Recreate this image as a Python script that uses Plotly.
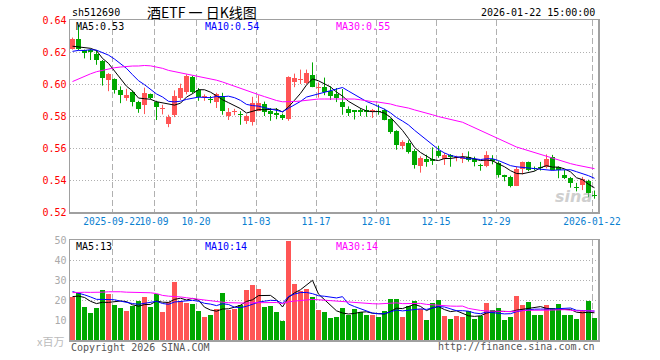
import numpy as np
import pandas as pd
import plotly.graph_objects as go

# ---------------- data ----------------
opens = [0.622, 0.628, 0.621, 0.6215, 0.619, 0.6145, 0.6023, 0.603, 0.596, 0.5915,
         0.5948, 0.5885, 0.5868, 0.5935, 0.589, 0.5843, 0.5752, 0.5808, 0.5913, 0.5947,
         0.6043, 0.5965, 0.5919, 0.5905, 0.589, 0.5925, 0.580, 0.5825, 0.5812, 0.5766,
         0.5765, 0.5834, 0.5877, 0.583, 0.582, 0.5804, 0.5781, 0.6012, 0.6025, 0.6007,
         0.6058, 0.5977, 0.598, 0.5955, 0.5935, 0.5885, 0.5844, 0.5832, 0.5833, 0.5835,
         0.5828, 0.5832, 0.5835, 0.5783, 0.5704, 0.561, 0.5631, 0.5583, 0.5486, 0.5533,
         0.5531, 0.5579, 0.5531, 0.5558, 0.5536, 0.5531, 0.5544, 0.5531, 0.5496, 0.5489,
         0.553, 0.5506, 0.5433, 0.5417, 0.5364, 0.5471, 0.551, 0.5472, 0.5478, 0.5481,
         0.5544, 0.5481, 0.5433, 0.5413, 0.5352, 0.5366, 0.5391, 0.5307]
highs = [0.629, 0.637, 0.6215, 0.622, 0.621, 0.615, 0.6068, 0.6035, 0.5985, 0.597,
         0.596, 0.5895, 0.5977, 0.594, 0.5895, 0.587, 0.5808, 0.596, 0.6002, 0.606,
         0.605, 0.5975, 0.5935, 0.5925, 0.5945, 0.5945, 0.585, 0.5845, 0.583, 0.581,
         0.592, 0.593, 0.589, 0.585, 0.585, 0.5815, 0.6048, 0.6065, 0.609, 0.609,
         0.6135, 0.601, 0.604, 0.5985, 0.5975, 0.5969, 0.586, 0.5833, 0.585, 0.5865,
         0.5844, 0.5871, 0.5845, 0.5785, 0.5711, 0.5648, 0.5648, 0.5593, 0.5548, 0.5558,
         0.5604, 0.5614, 0.5569, 0.5562, 0.5552, 0.5569, 0.5579, 0.5546, 0.5502, 0.558,
         0.5555, 0.5517, 0.5433, 0.5427, 0.5485, 0.5515, 0.5515, 0.5484, 0.5513, 0.556,
         0.5557, 0.5485, 0.5463, 0.5419, 0.5382, 0.5419, 0.5402, 0.5334]
lows = [0.6215, 0.621, 0.616, 0.615, 0.612, 0.599, 0.5955, 0.594, 0.588, 0.5895,
        0.586, 0.582, 0.5812, 0.5905, 0.5775, 0.581, 0.573, 0.5793, 0.590, 0.5935,
        0.594, 0.5895, 0.5895, 0.588, 0.585, 0.5808, 0.5775, 0.5805, 0.5745, 0.575,
        0.574, 0.583, 0.580, 0.577, 0.578, 0.5775, 0.577, 0.598, 0.600, 0.600,
        0.598, 0.5915, 0.593, 0.590, 0.5887, 0.5808, 0.580, 0.5778, 0.580, 0.5795,
        0.5788, 0.5808, 0.5773, 0.5689, 0.5589, 0.5592, 0.5565, 0.5471, 0.5446, 0.5483,
        0.5494, 0.5539, 0.5494, 0.5483, 0.5517, 0.5506, 0.5515, 0.5485, 0.5458, 0.548,
        0.5498, 0.5415, 0.5392, 0.5354, 0.5362, 0.5435, 0.5455, 0.5459, 0.5459, 0.5473,
        0.546, 0.5411, 0.5406, 0.5352, 0.5329, 0.5337, 0.5292, 0.5283]
closes = [0.628, 0.622, 0.6195, 0.620, 0.615, 0.6035, 0.6065, 0.5965, 0.5933, 0.5933,
          0.5885, 0.5845, 0.5945, 0.5915, 0.5857, 0.5847, 0.5794, 0.5927, 0.5975, 0.6048,
          0.5953, 0.5919, 0.5925, 0.590, 0.5935, 0.583, 0.5827, 0.5833, 0.5805, 0.5798,
          0.588, 0.5884, 0.5828, 0.5815, 0.5808, 0.579, 0.6044, 0.6035, 0.603, 0.607,
          0.5981, 0.5983, 0.595, 0.5925, 0.591, 0.5854, 0.5819, 0.5828, 0.5828, 0.5828,
          0.5832, 0.5826, 0.5775, 0.5698, 0.5616, 0.5635, 0.5575, 0.5496, 0.5538, 0.551,
          0.5516, 0.5548, 0.5558, 0.5541, 0.554, 0.5544, 0.5527, 0.551, 0.5485, 0.5558,
          0.5518, 0.5433, 0.5419, 0.5364, 0.5469, 0.551, 0.5464, 0.5468, 0.5474, 0.5533,
          0.5464, 0.5464, 0.5413, 0.5381, 0.5348, 0.5406, 0.5319, 0.5302]
volumes = [21.7, 23.3, 16.5, 13.5, 16, 25, 23, 17.5, 16, 14.5,
           17, 19.5, 21.5, 16.5, 23, 14, 19, 29, 19.5, 18.5,
           18, 14.5, 11.5, 12.5, 15.5, 23.5, 15, 15.5, 17.5, 25,
           27.5, 25.5, 16.5, 17, 14, 9.5, 49.5, 28, 24.7, 25.5,
           21.5, 15, 14, 11, 11.5, 16, 12.5, 15.5, 14, 12.5,
           12.5, 11.5, 14.5, 20.5, 20.5, 11.5, 17, 19.5, 15.5, 10,
           18.5, 20, 12, 10.5, 12, 11.5, 14.5, 10.5, 12, 18.5,
           15, 16, 10, 11.5, 22, 17.5, 19, 12.5, 12.5, 17.5,
           16, 18, 12.5, 12.5, 10.5, 14.5, 19.5, 11]

# sessions before the visible window (only used for the moving averages)
prior_closes = [0.572, 0.574, 0.571, 0.575, 0.577, 0.579, 0.576, 0.580, 0.582, 0.581,
                0.584, 0.585, 0.598, 0.605, 0.612, 0.618, 0.615, 0.620, 0.619, 0.619,
                0.616, 0.620, 0.615, 0.618, 0.617, 0.624, 0.621, 0.623, 0.622]
prior_volumes = [16, 19, 15, 18, 20, 17, 14, 19, 21, 18,
                 17, 20, 28, 35, 42, 30, 33, 27, 31, 29,
                 30, 26, 24, 28, 25.5, 22, 20, 23, 21.8]

date_idx = [7, 14, 21, 31, 41, 51, 61, 71, 87]
date_labels = ["2025-09-22", "10-09", "10-20", "11-03", "11-17", "12-01", "12-15", "12-29", "2026-01-22"]

price_ticks = [0.52, 0.54, 0.56, 0.58, 0.60, 0.62, 0.64]
vol_ticks = [10, 20, 30, 40, 50]

title_text = "酒ETF 一 日K线图"
code_text = "sh512690"
time_text = "2026-01-22 15:00:00"
ma_price_labels = ["MA5:0.53", "MA10:0.54", "MA30:0.55"]
ma_vol_labels = ["MA5:13", "MA10:14", "MA30:14"]

# ---------------- derived ----------------
n = len(closes)
idx = np.arange(n)
UP = "#ff5555"
DN = "#00a800"
ma_colors = ["#000000", "#0000ff", "#ff00ff"]

o = np.array(opens); c = np.array(closes)
h = np.array(highs); l = np.array(lows)
up = c >= o
colors = [UP if u else DN for u in up]

full_c = pd.Series(prior_closes + closes)
full_v = pd.Series(prior_volumes + volumes)
np_ = len(prior_closes)
ma_p = [full_c.rolling(w).mean().values[np_:] for w in (5, 10, 30)]
ma_v = [full_v.rolling(w).mean().values[np_:] for w in (5, 10, 30)]

body_base = np.minimum(o, c)
body_h = np.maximum(np.abs(c - o), 0.0007)

fig = go.Figure()

# wicks
for col, mask in ((UP, up), (DN, ~up)):
    xs, ys = [], []
    for i in idx[mask]:
        xs += [i, i, None]
        ys += [l[i], h[i], None]
    fig.add_trace(go.Scatter(x=xs, y=ys, mode="lines", line=dict(color=col, width=1),
                             hoverinfo="skip", xaxis="x", yaxis="y"))
# bodies
fig.add_trace(go.Bar(x=idx, y=body_h, base=body_base, marker=dict(color=colors, line=dict(width=0)),
                     width=0.83, xaxis="x", yaxis="y"))
for m, col in zip(ma_p, ma_colors):
    fig.add_trace(go.Scatter(x=idx, y=m, mode="lines", line=dict(color=col, width=1),
                             xaxis="x", yaxis="y"))

# volume
fig.add_trace(go.Bar(x=idx, y=volumes, marker=dict(color=colors, line=dict(width=0)),
                     width=0.83, xaxis="x2", yaxis="y2"))
for m, col in zip(ma_v, ma_colors):
    fig.add_trace(go.Scatter(x=idx, y=m, mode="lines", line=dict(color=col, width=1),
                             xaxis="x2", yaxis="y2"))

W, H = 660, 360
L, R, T, B = 70, 62, 20, 20
pw, ph = W - L - R, H - T - B
def px(x): return (x - L) / pw
def py(y): return (H - B - y) / ph

grid_x = [i - 0.417 for i in date_idx]
xr = [-0.417, n - 0.417]
mono = "DejaVu Sans Mono"
frame = "#a0a0a0"

common_x = dict(range=xr, showline=True, linecolor=frame, linewidth=1.5, mirror=True,
                tickmode="array", tickvals=grid_x, showgrid=True, gridcolor="#b0b0b0",
                griddash="6px,3px", gridwidth=1, zeroline=False, ticks="", fixedrange=True,
                tickangle=0, automargin=False)

fig.update_layout(
    width=W, height=H, margin=dict(l=L, r=R, t=T, b=B, autoexpand=False),
    paper_bgcolor="white", plot_bgcolor="white", showlegend=False, hovermode=False,
    bargap=0,
    xaxis=dict(**common_x, anchor="y", ticktext=date_labels,
               tickfont=dict(family=mono, size=9.6, color="#0a80d0")),
    xaxis2=dict(**common_x, anchor="y2", matches="x", showticklabels=False),
    yaxis=dict(domain=[py(212), 1], range=[0.52, 0.64], tickmode="array", tickvals=price_ticks,
               ticktext=[f"{v:.2f}" for v in price_ticks], fixedrange=True,
               tickfont=dict(family=mono, size=10, color="#ff0000"), automargin=False,
               showline=True, linecolor=frame, linewidth=1.5, mirror=True,
               showgrid=True, gridcolor="#b0b0b0", griddash="1px,2px", zeroline=False, ticks=""),
    yaxis2=dict(domain=[0, py(240)], range=[0, 50], tickmode="array", tickvals=vol_ticks,
                tickfont=dict(family=mono, size=10, color="#aaaaaa"), automargin=False,
                showline=True, linecolor=frame, linewidth=1.5, mirror=True, fixedrange=True,
                showgrid=True, gridcolor="#b0b0b0", griddash="1px,2px", zeroline=False, ticks=""),
)

ann = []
def add(text, x, y, color="#000", size=10, xanchor="left", family=mono, **kw):
    ann.append(dict(text=text, x=px(x), y=py(y), xref="paper", yref="paper", showarrow=False,
                    xanchor=xanchor, yanchor="middle", font=dict(family=family, size=size, color=color), **kw))

add(code_text, 70, 13)
add(title_text, 202, 12, size=14, xanchor="center", family="Noto Sans CJK SC")
add(time_text, 597, 13, xanchor="right")
for t, x0, col in zip(ma_price_labels, (74, 203, 334), ma_colors):
    add(t, x0, 26, color=col)
for t, x0, col in zip(ma_vol_labels, (74, 203, 334), ma_colors):
    add(t, x0, 246.5, color=col)
add("x百万", 66, 341, color="#bbbbbb", xanchor="right", family="Noto Sans CJK SC", size=11)
add("Copyright 2026 SINA.COM", 69, 347, color="#555555")
add("http://finance.sina.com.cn", 597, 346, color="#555555", xanchor="right")
ann.append(dict(text="<b><i>sina</i></b>", x=px(594), y=py(196), xref="paper", yref="paper",
                showarrow=False, xanchor="right", yanchor="middle", opacity=0.6,
                font=dict(family="DejaVu Sans", size=16, color="#b0b0b0")))
fig.update_layout(annotations=ann)

fig.write_html("out.html", config={"displayModeBar": False, "staticPlot": True},
               post_script="document.body.style.margin='0';document.body.style.overflow='hidden';")
